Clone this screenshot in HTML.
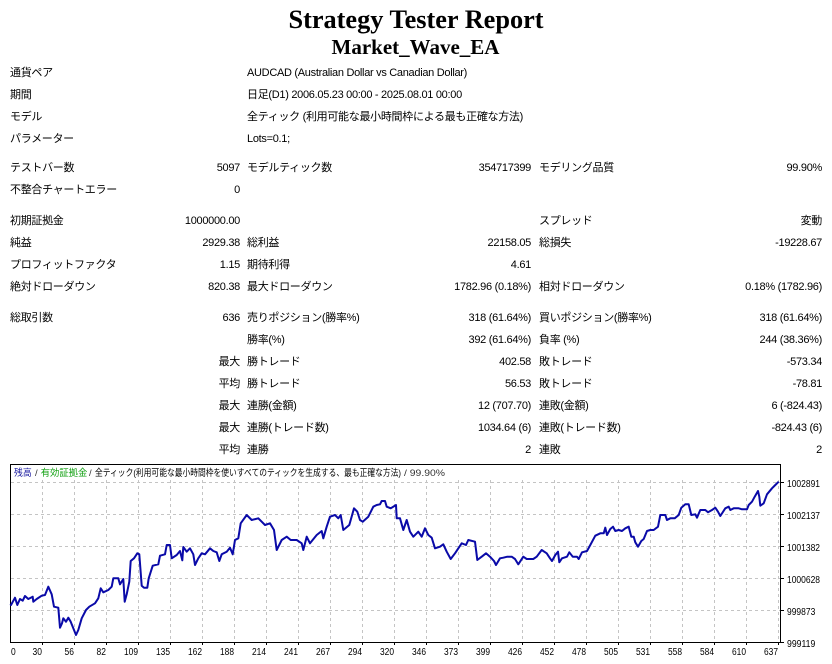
<!DOCTYPE html>
<html><head><meta charset="utf-8"><style>
html,body{margin:0;padding:0;background:#fff;}
svg{display:block;}
.t{font-family:"Liberation Sans","Noto Sans CJK JP",sans-serif;font-size:11px;fill:#000;letter-spacing:-0.3px;}
.e{text-anchor:end;}
.h{font-family:"Liberation Serif",serif;font-weight:bold;fill:#000;text-anchor:middle;}
.c{font-family:"Liberation Sans","Noto Sans CJK JP",sans-serif;font-size:10px;fill:#000;}
.lg{font-family:"Liberation Sans","Noto Sans CJK JP",sans-serif;font-size:9.5px;}
</style></head><body>
<svg width="832" height="664" viewBox="0 0 832 664" xmlns="http://www.w3.org/2000/svg">
<rect width="832" height="664" fill="#fff"/>
<text class="h" x="416" y="28" font-size="26.3">Strategy Tester Report</text>
<text class="h" x="415.5" y="54" font-size="21">Market_Wave_EA</text>

<g class="t">
<text x="10" y="76">通貨ペア</text><text x="247" y="76">AUDCAD (Australian Dollar vs Canadian Dollar)</text>
<text x="10" y="98">期間</text><text x="247" y="98">日足(D1) 2006.05.23 00:00 - 2025.08.01 00:00</text>
<text x="10" y="120">モデル</text><text x="247" y="120">全ティック (利用可能な最小時間枠による最も正確な方法)</text>
<text x="10" y="142">パラメーター</text><text x="247" y="142">Lots=0.1;</text>

<text x="10" y="171">テストバー数</text><text class="e" x="240" y="171">5097</text>
<text x="247" y="171">モデルティック数</text><text class="e" x="531" y="171">354717399</text>
<text x="539" y="171">モデリング品質</text><text class="e" x="822" y="171">99.90%</text>

<text x="10" y="193">不整合チャートエラー</text><text class="e" x="240" y="193">0</text>

<text x="10" y="224">初期証拠金</text><text class="e" x="240" y="224">1000000.00</text>
<text x="539" y="224">スプレッド</text><text class="e" x="822" y="224">変動</text>

<text x="10" y="246">純益</text><text class="e" x="240" y="246">2929.38</text>
<text x="247" y="246">総利益</text><text class="e" x="531" y="246">22158.05</text>
<text x="539" y="246">総損失</text><text class="e" x="822" y="246">-19228.67</text>

<text x="10" y="268">プロフィットファクタ</text><text class="e" x="240" y="268">1.15</text>
<text x="247" y="268">期待利得</text><text class="e" x="531" y="268">4.61</text>

<text x="10" y="290">絶対ドローダウン</text><text class="e" x="240" y="290">820.38</text>
<text x="247" y="290">最大ドローダウン</text><text class="e" x="531" y="290">1782.96 (0.18%)</text>
<text x="539" y="290">相対ドローダウン</text><text class="e" x="822" y="290">0.18% (1782.96)</text>

<text x="10" y="321">総取引数</text><text class="e" x="240" y="321">636</text>
<text x="247" y="321">売りポジション(勝率%)</text><text class="e" x="531" y="321">318 (61.64%)</text>
<text x="539" y="321">買いポジション(勝率%)</text><text class="e" x="822" y="321">318 (61.64%)</text>

<text x="247" y="343">勝率(%)</text><text class="e" x="531" y="343">392 (61.64%)</text>
<text x="539" y="343">負率 (%)</text><text class="e" x="822" y="343">244 (38.36%)</text>

<text class="e" x="240" y="365">最大</text>
<text x="247" y="365">勝トレード</text><text class="e" x="531" y="365">402.58</text>
<text x="539" y="365">敗トレード</text><text class="e" x="822" y="365">-573.34</text>

<text class="e" x="240" y="387">平均</text>
<text x="247" y="387">勝トレード</text><text class="e" x="531" y="387">56.53</text>
<text x="539" y="387">敗トレード</text><text class="e" x="822" y="387">-78.81</text>

<text class="e" x="240" y="409">最大</text>
<text x="247" y="409">連勝(金額)</text><text class="e" x="531" y="409">12 (707.70)</text>
<text x="539" y="409">連敗(金額)</text><text class="e" x="822" y="409">6 (-824.43)</text>

<text class="e" x="240" y="431">最大</text>
<text x="247" y="431">連勝(トレード数)</text><text class="e" x="531" y="431">1034.64 (6)</text>
<text x="539" y="431">連敗(トレード数)</text><text class="e" x="822" y="431">-824.43 (6)</text>

<text class="e" x="240" y="453">平均</text>
<text x="247" y="453">連勝</text><text class="e" x="531" y="453">2</text>
<text x="539" y="453">連敗</text><text class="e" x="822" y="453">2</text>
</g>

<!-- chart grid -->
<g stroke="#c4c4c4" stroke-width="1" stroke-dasharray="3,3" fill="none">
<line x1="11" y1="482.5" x2="780" y2="482.5"/>
<line x1="11" y1="514.5" x2="780" y2="514.5"/>
<line x1="11" y1="546.5" x2="780" y2="546.5"/>
<line x1="11" y1="578.5" x2="780" y2="578.5"/>
<line x1="11" y1="610.5" x2="780" y2="610.5"/>
<line x1="42.5" y1="480" x2="42.5" y2="642"/>
<line x1="74.5" y1="480" x2="74.5" y2="642"/>
<line x1="106.5" y1="480" x2="106.5" y2="642"/>
<line x1="138.5" y1="480" x2="138.5" y2="642"/>
<line x1="170.5" y1="480" x2="170.5" y2="642"/>
<line x1="202.5" y1="480" x2="202.5" y2="642"/>
<line x1="234.5" y1="480" x2="234.5" y2="642"/>
<line x1="266.5" y1="480" x2="266.5" y2="642"/>
<line x1="298.5" y1="480" x2="298.5" y2="642"/>
<line x1="330.5" y1="480" x2="330.5" y2="642"/>
<line x1="362.5" y1="480" x2="362.5" y2="642"/>
<line x1="394.5" y1="480" x2="394.5" y2="642"/>
<line x1="426.5" y1="480" x2="426.5" y2="642"/>
<line x1="458.5" y1="480" x2="458.5" y2="642"/>
<line x1="490.5" y1="480" x2="490.5" y2="642"/>
<line x1="522.5" y1="480" x2="522.5" y2="642"/>
<line x1="554.5" y1="480" x2="554.5" y2="642"/>
<line x1="586.5" y1="480" x2="586.5" y2="642"/>
<line x1="618.5" y1="480" x2="618.5" y2="642"/>
<line x1="650.5" y1="480" x2="650.5" y2="642"/>
<line x1="682.5" y1="480" x2="682.5" y2="642"/>
<line x1="714.5" y1="480" x2="714.5" y2="642"/>
<line x1="746.5" y1="480" x2="746.5" y2="642"/>
<line x1="778.5" y1="480" x2="778.5" y2="642"/>
</g>

<!-- border -->
<rect x="10.5" y="464.5" width="770" height="178" fill="none" stroke="#000" stroke-width="1"/>

<!-- ticks -->
<g stroke="#000" stroke-width="1">
<line x1="781" y1="482.5" x2="784" y2="482.5"/>
<line x1="781" y1="514.5" x2="784" y2="514.5"/>
<line x1="781" y1="546.5" x2="784" y2="546.5"/>
<line x1="781" y1="578.5" x2="784" y2="578.5"/>
<line x1="781" y1="610.5" x2="784" y2="610.5"/>
<line x1="781" y1="642.5" x2="784" y2="642.5"/>
<line x1="42.5" y1="643" x2="42.5" y2="645"/><line x1="74.5" y1="643" x2="74.5" y2="645"/><line x1="106.5" y1="643" x2="106.5" y2="645"/><line x1="138.5" y1="643" x2="138.5" y2="645"/><line x1="170.5" y1="643" x2="170.5" y2="645"/><line x1="202.5" y1="643" x2="202.5" y2="645"/><line x1="234.5" y1="643" x2="234.5" y2="645"/><line x1="266.5" y1="643" x2="266.5" y2="645"/><line x1="298.5" y1="643" x2="298.5" y2="645"/><line x1="330.5" y1="643" x2="330.5" y2="645"/><line x1="362.5" y1="643" x2="362.5" y2="645"/><line x1="394.5" y1="643" x2="394.5" y2="645"/><line x1="426.5" y1="643" x2="426.5" y2="645"/><line x1="458.5" y1="643" x2="458.5" y2="645"/><line x1="490.5" y1="643" x2="490.5" y2="645"/><line x1="522.5" y1="643" x2="522.5" y2="645"/><line x1="554.5" y1="643" x2="554.5" y2="645"/><line x1="586.5" y1="643" x2="586.5" y2="645"/><line x1="618.5" y1="643" x2="618.5" y2="645"/><line x1="650.5" y1="643" x2="650.5" y2="645"/><line x1="682.5" y1="643" x2="682.5" y2="645"/><line x1="714.5" y1="643" x2="714.5" y2="645"/><line x1="746.5" y1="643" x2="746.5" y2="645"/><line x1="778.5" y1="643" x2="778.5" y2="645"/>
</g>

<!-- y labels -->
<g class="c">
<text x="787" y="487" textLength="33" lengthAdjust="spacingAndGlyphs">1002891</text>
<text x="787" y="519" textLength="33" lengthAdjust="spacingAndGlyphs">1002137</text>
<text x="787" y="551" textLength="33" lengthAdjust="spacingAndGlyphs">1001382</text>
<text x="787" y="583" textLength="33" lengthAdjust="spacingAndGlyphs">1000628</text>
<text x="787" y="615" textLength="28.3" lengthAdjust="spacingAndGlyphs">999873</text>
<text x="787" y="647" textLength="28.3" lengthAdjust="spacingAndGlyphs">999119</text>
</g>

<!-- x labels (right aligned to grid) -->
<g class="c">
<text x="11" y="655" textLength="4.7" lengthAdjust="spacingAndGlyphs">0</text>
<text x="32.5" y="655" textLength="9.4" lengthAdjust="spacingAndGlyphs">30</text>
<text x="64.5" y="655" textLength="9.4" lengthAdjust="spacingAndGlyphs">56</text>
<text x="96.5" y="655" textLength="9.4" lengthAdjust="spacingAndGlyphs">82</text>
<text x="124" y="655" textLength="14" lengthAdjust="spacingAndGlyphs">109</text>
<text x="156" y="655" textLength="14" lengthAdjust="spacingAndGlyphs">135</text>
<text x="188" y="655" textLength="14" lengthAdjust="spacingAndGlyphs">162</text>
<text x="220" y="655" textLength="14" lengthAdjust="spacingAndGlyphs">188</text>
<text x="252" y="655" textLength="14" lengthAdjust="spacingAndGlyphs">214</text>
<text x="284" y="655" textLength="14" lengthAdjust="spacingAndGlyphs">241</text>
<text x="316" y="655" textLength="14" lengthAdjust="spacingAndGlyphs">267</text>
<text x="348" y="655" textLength="14" lengthAdjust="spacingAndGlyphs">294</text>
<text x="380" y="655" textLength="14" lengthAdjust="spacingAndGlyphs">320</text>
<text x="412" y="655" textLength="14" lengthAdjust="spacingAndGlyphs">346</text>
<text x="444" y="655" textLength="14" lengthAdjust="spacingAndGlyphs">373</text>
<text x="476" y="655" textLength="14" lengthAdjust="spacingAndGlyphs">399</text>
<text x="508" y="655" textLength="14" lengthAdjust="spacingAndGlyphs">426</text>
<text x="540" y="655" textLength="14" lengthAdjust="spacingAndGlyphs">452</text>
<text x="572" y="655" textLength="14" lengthAdjust="spacingAndGlyphs">478</text>
<text x="604" y="655" textLength="14" lengthAdjust="spacingAndGlyphs">505</text>
<text x="636" y="655" textLength="14" lengthAdjust="spacingAndGlyphs">531</text>
<text x="668" y="655" textLength="14" lengthAdjust="spacingAndGlyphs">558</text>
<text x="700" y="655" textLength="14" lengthAdjust="spacingAndGlyphs">584</text>
<text x="732" y="655" textLength="14" lengthAdjust="spacingAndGlyphs">610</text>
<text x="764" y="655" textLength="14" lengthAdjust="spacingAndGlyphs">637</text>
</g>

<!-- legend -->
<g class="lg">
<text x="14" y="476" fill="#1a1aa0" textLength="17.7" lengthAdjust="spacingAndGlyphs">残高</text>
<text x="35" y="476" fill="#333">/</text>
<text x="40.7" y="476" fill="#10a010" textLength="46.6" lengthAdjust="spacingAndGlyphs">有効証拠金</text>
<text x="89" y="476" fill="#333">/</text>
<text x="95" y="476" fill="#000" textLength="306" lengthAdjust="spacingAndGlyphs">全ティック(利用可能な最小時間枠を使いすべてのティックを生成する、最も正確な方法)</text>
<text x="404" y="476" fill="#333" textLength="41" lengthAdjust="spacingAndGlyphs">/ 99.90%</text>
</g>

<!-- equity line -->
<polyline fill="none" stroke="#0a0aa8" stroke-width="2" stroke-linejoin="round" points="10.5,604 11,605 15,597.7 17.3,605 20,599 22.7,600.7 25,596 28.3,599 32.7,596.7 33.3,601.7 36.7,599 41.7,595.7 45,595 48.3,586.7 51.7,594.3 54,606.7 58.3,607.7 60,627.7 62,623.3 63.3,618.3 66,621.7 68.3,617.7 70.7,621.7 74,630 76,635 78.3,630 81.7,618.3 86,610 89.3,606.7 95,603.3 98.3,598.3 100.7,588.3 103.3,592.3 108.3,590 111.7,586.7 113.3,578.3 118.3,578.3 120,584.3 123.3,579 124.7,601.7 126.7,594.3 129.3,581.7 130.7,561 134,558.3 137.3,553.3 139.3,554.3 141.7,585.7 144,587.7 147.3,587.7 148.7,578.3 152.7,565.7 158.3,564.3 160,555.7 165,554.3 166.7,545 170,545 171.7,558.3 176.7,555 180,551 182.3,560.3 183.3,547 186.7,551.7 190,548.3 193.3,554.3 195,565 198.3,558.3 201.7,553.3 205,554.3 210,548.3 213.3,551 216.7,552.3 219.3,561 221.7,554.3 226.7,551.7 230,547.7 232.7,554.3 235,540 238.3,538.3 240.7,523.3 246.7,515 251.7,520 258.3,518.3 261.7,521.7 265,525 270,523.3 274,530 276.7,550 281.7,540 286.7,536.7 290.7,540 296.7,540 301.7,543.3 303.3,550 306.7,536.7 310,543.3 316.7,535 321.7,531 323.3,538.3 326.7,526.7 330,516.7 335,515 338.3,518.3 340.7,515 343.3,530 349.3,525 354,508.3 357.3,511.7 360,520 362.7,521.7 368.3,516.7 373.3,506.7 376.7,505 380,504.3 381.7,501 385,501 386.7,506.7 390.7,508.3 396,505 396.7,518.3 400,518.3 403.3,530 406.7,520 410,531.7 413.3,536.7 418.3,531.7 421.7,536.7 425,528.3 428.3,535 431.7,537.7 435,548.3 440,546.7 443.3,544.3 446.7,551.7 450.7,559 455,553.3 461.7,543.3 466,545 468.3,540 475,541.7 477.3,560 481.7,556.7 486,553.3 490,556.7 494,561 496,565 500,558.3 503.3,557.7 507.3,556.7 511.7,556.7 515,559 518.3,564.3 523.3,556.7 526.7,559 533.3,559 536.7,556.7 541.7,550 546.7,553.3 550,558.3 552,561 555.3,555 558,551.7 559.3,562.3 562,558.3 567,556.7 569.3,552.3 572.7,556.7 577,556.7 578.7,559 582,552.3 587,551 590.3,545 595.3,535.7 600.3,533.3 603.7,533.3 605.3,527.7 607,535 610.3,529 613,526.7 615.3,531 618.7,530 622,531 625.3,528.3 628.7,526.7 631.3,536.7 633.7,536.7 635.3,542.3 638,546.7 641.3,541 643.7,539 647,531 650.3,530 653.7,530 658,526.7 660.3,515 665.3,515 667,520 670.3,518.3 674.7,518.3 678.7,515 681.3,507.7 685.3,504.3 688.7,504.3 691.3,515 695.3,514.3 697,517.7 700.3,510 705.3,510 708,512.3 712,510 715.3,507.7 718,511.7 720.3,516 725.3,508.3 728.7,506.7 730.3,510 733.7,508.3 738.7,508.3 742,509.3 747,509.3 748.7,505 752,501.7 754.7,496.7 758,491 759.3,496.7 760.3,505.7 763.7,503.3 767,494.3 772,488.3 775.3,485 778.7,481.7"/>
</svg>
</body></html>
